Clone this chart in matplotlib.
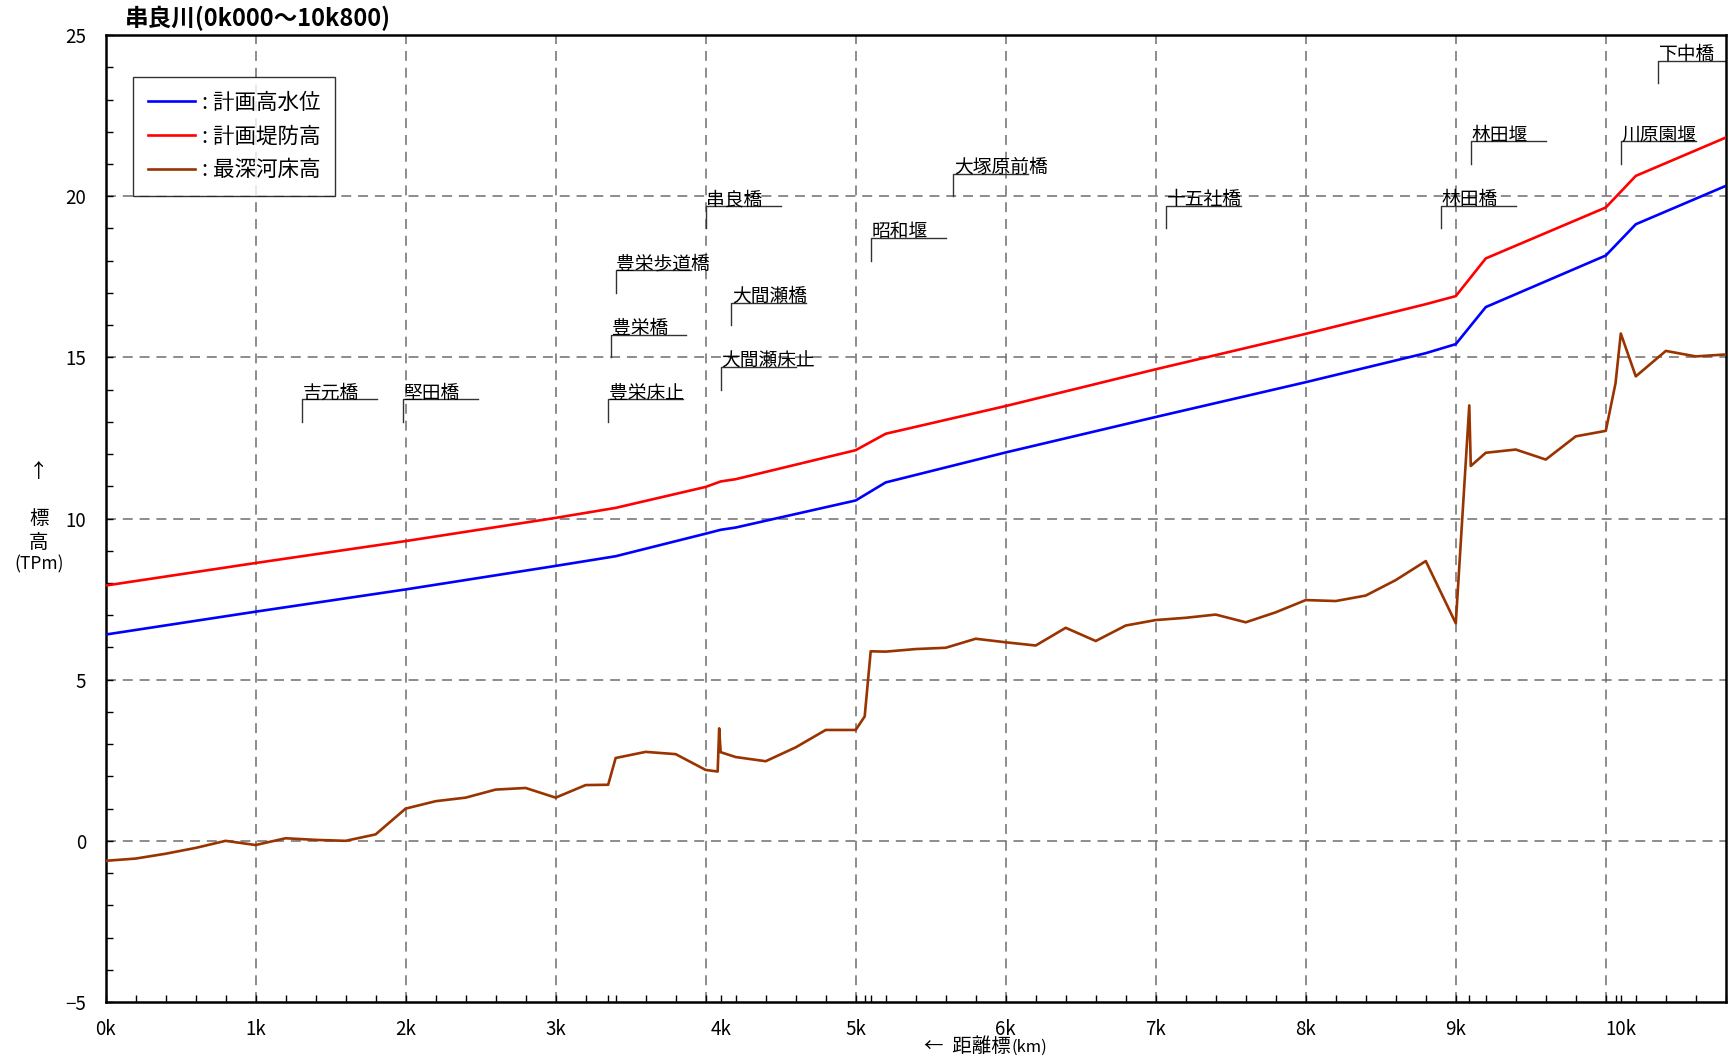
import numpy as np
import matplotlib
matplotlib.use("Agg")
import matplotlib.pyplot as plt

plt.rcParams['font.family'] = ['Noto Sans CJK JP', 'DejaVu Sans']

# ---- data ----
# 計画高水位 (planned high water level)
hwl_km = [0.0, 1.0, 2.0, 3.0, 3.4, 4.0, 4.1, 4.2, 5.0, 5.2, 6.0, 7.0, 8.0,
          8.8, 9.0, 9.2, 10.0, 10.2, 10.8]
hwl = [6.40, 7.11, 7.80, 8.53, 8.83, 9.53, 9.65, 9.72, 10.56, 11.12, 12.05,
       13.15, 14.23, 15.13, 15.41, 16.56, 18.16, 19.13, 20.32]

# 計画堤防高 (planned levee crown)
levee_km = [0.0, 1.0, 2.0, 3.0, 3.4, 4.0, 4.1, 4.2, 5.0, 5.2, 6.0, 7.0, 8.0,
            8.8, 9.0, 9.2, 10.0, 10.2, 10.8]
levee = [7.92, 8.62, 9.30, 10.02, 10.33, 10.98, 11.15, 11.22, 12.12, 12.63,
         13.49, 14.63, 15.73, 16.65, 16.90, 18.07, 19.65, 20.63, 21.82]

# 最深河床高 (deepest bed)
bed_km = [0.0, 0.2, 0.4, 0.6, 0.8, 1.0, 1.2, 1.4, 1.6, 1.8, 2.0, 2.2, 2.4,
          2.6, 2.8, 3.0, 3.2, 3.35, 3.4, 3.6, 3.8, 4.0, 4.08, 4.09, 4.1, 4.2,
          4.4, 4.6, 4.8, 5.0, 5.06, 5.1, 5.2, 5.4, 5.6, 5.8, 6.0, 6.2, 6.4,
          6.6, 6.8, 7.0, 7.2, 7.4, 7.6, 7.8, 8.0, 8.2, 8.4, 8.6, 8.8, 9.0,
          9.09, 9.1, 9.2, 9.4, 9.6, 9.8, 10.0, 10.065, 10.1, 10.2, 10.4,
          10.6, 10.8]
bed = [-0.62, -0.55, -0.40, -0.22, 0.00, -0.13, 0.08, 0.03, 0.00, 0.20,
       1.00, 1.23, 1.34, 1.59, 1.64, 1.34, 1.73, 1.74, 2.57, 2.76, 2.69,
       2.20, 2.15, 3.49, 2.75, 2.60, 2.47, 2.90, 3.44, 3.44, 3.86, 5.88,
       5.87, 5.95, 5.99, 6.27, 6.16, 6.06, 6.61, 6.20, 6.68, 6.85, 6.92,
       7.02, 6.78, 7.09, 7.47, 7.44, 7.61, 8.09, 8.68, 6.75, 13.51, 11.63,
       12.04, 12.14, 11.83, 12.55, 12.72, 14.20, 15.74, 14.41, 15.20,
       15.03, 15.09]

# structures: name, chainage (km), base level of the leader line
struct_names = ['吉元橋', '堅田橋', '豊栄床止', '豊栄橋', '豊栄歩道橋', '串良橋',
                '大間瀬床止', '大間瀬橋', '昭和堰', '大塚原前橋', '十五社橋',
                '林田橋', '林田堰', '川原園堰', '下中橋']
struct_km = [1.31, 1.98, 3.35, 3.37, 3.40, 4.00, 4.10, 4.17, 5.10, 5.65,
             7.07, 8.90, 9.10, 10.10, 10.35]
struct_lv = [13.0, 13.0, 13.0, 15.0, 17.0, 19.0, 14.0, 16.0, 18.0, 20.0,
             19.0, 19.0, 21.0, 21.0, 23.5]

xtick_pos = [0, 1, 2, 3, 4.1, 5, 6, 7, 8, 9, 10.1]
xtick_lab = ['0k', '1k', '2k', '3k', '4k', '5k', '6k', '7k', '8k', '9k', '10k']
extra_ticks = [3.35, 4.1, 5.06, 5.1, 9.09, 10.065, 10.1]

# ---- figure ----
fig = plt.figure(figsize=(17.31, 10.62), dpi=100)
ax = fig.add_axes([0.061, 0.0565, 0.936, 0.9105])

ax.set_xlim(0, 10.8)
ax.set_ylim(-5, 25)

# grid (drawn by hand, labels of 4k/10k sit off the grid)
grid_kw = dict(color='#6e6e6e', lw=1.1, linestyle=(0, (6.5, 4.5)), zorder=1)
for g in range(1, 11):
    ax.axvline(g, **grid_kw)
for g in [0, 5, 10, 15, 20]:
    ax.axhline(g, **grid_kw)

ax.plot(hwl_km, hwl, color='#0000ff', lw=1.9, label=': 計画高水位', zorder=3)
ax.plot(levee_km, levee, color='#ff0000', lw=1.9, label=': 計画堤防高', zorder=3)
ax.plot(bed_km, bed, color='#993300', lw=1.9, label=': 最深河床高', zorder=3)

# structure labels with leader lines
for name, x, lv in zip(struct_names, struct_km, struct_lv):
    ax.plot([x, x, x + 0.5], [lv, lv + 0.7, lv + 0.7], color='#333333',
            lw=1.0, zorder=2, clip_on=True)
    ax.text(x + 0.005, lv + 0.72, name, fontsize=13.5, ha='left',
            va='baseline', zorder=4)

# ticks
ax.set_xticks(xtick_pos)
ax.set_xticklabels(xtick_lab)
minor = sorted(set(np.round(np.arange(0, 10.81, 0.2), 3)) | set(extra_ticks))
ax.set_xticks(minor, minor=True)
ax.set_yticks(np.arange(-5, 26, 5))
ax.set_yticks(np.arange(-5, 26, 1), minor=True)
ax.tick_params(axis='both', which='both', direction='in', length=5,
               width=1, labelsize=13.5)
ax.tick_params(axis='x', pad=12)
ax.tick_params(axis='y', pad=14)
ax.yaxis.set_major_formatter(plt.FuncFormatter(lambda v, p: f'{v:.0f}'.replace('-', '\u2212')))

for s in ax.spines.values():
    s.set_linewidth(1.8)
    s.set_color('black')

leg = ax.legend(loc='upper left', bbox_to_anchor=(0.0167, 0.957),
                borderaxespad=0, fontsize=15.5, frameon=True, fancybox=False,
                edgecolor='black', handlelength=2.2, handletextpad=0.3,
                labelspacing=0.55, borderpad=0.7)
leg.get_frame().set_linewidth(1.0)

# titles and axis labels
fig.text(125 / 1731, 1 - 18 / 1062, '串良川(0k000～10k800)', fontsize=17,
         fontweight='bold', ha='left', va='center')
fig.text(39 / 1731, 1 - 471 / 1062, '↑', fontsize=14, ha='center', va='center')
fig.text(39 / 1731, 1 - 519 / 1062, '標', fontsize=14, ha='center', va='center')
fig.text(39 / 1731, 1 - 543 / 1062, '高', fontsize=14, ha='center', va='center')
fig.text(39 / 1731, 1 - 564 / 1062, '(TPm)', fontsize=12.5, ha='center', va='center')
fig.text(1011 / 1731, 1 - 1047 / 1062, '←  距離標', fontsize=14, ha='right', va='center')
fig.text(1012 / 1731, 1 - 1047 / 1062, '(km)', fontsize=12, ha='left', va='center')

fig.savefig('out.png', dpi=100)
